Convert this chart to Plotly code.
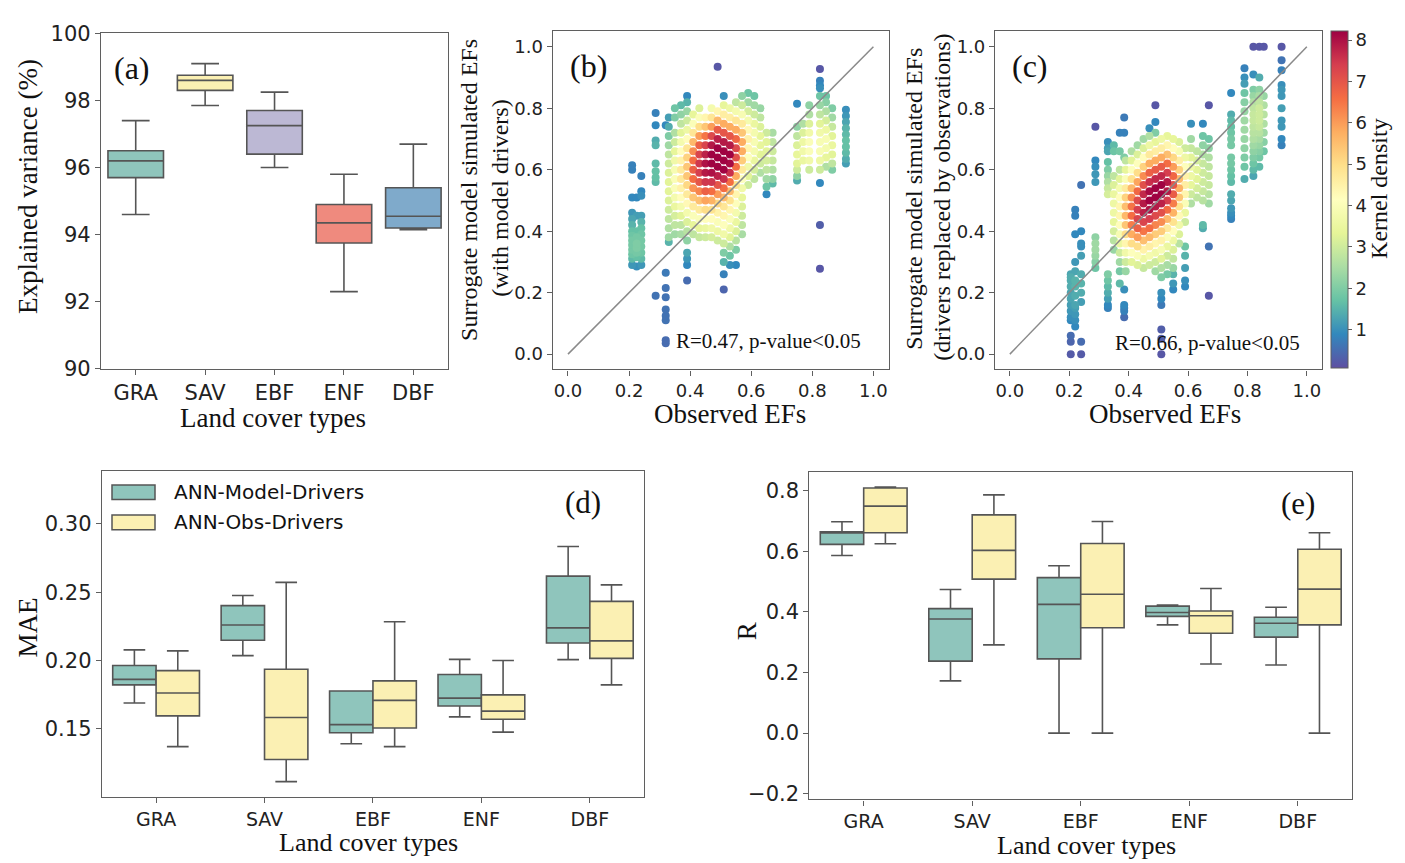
import plotly.graph_objects as go

W, H = 1405, 863
SERIF = "Liberation Serif, Times New Roman, serif"
SANS = "DejaVu Sans, sans-serif"
LINE = "#5f5f5f"
BOXLINE = "#555555"

cats = ["GRA", "SAV", "EBF", "ENF", "DBF"]

# ---------------- (a) explained variance ----------------
ev_lower = [94.6, 97.85, 96.0, 92.3, 94.15]
ev_q1 = [95.7, 98.3, 96.4, 93.75, 94.2]
ev_med = [96.2, 98.6, 97.25, 94.35, 94.55]
ev_q3 = [96.5, 98.75, 97.7, 94.9, 95.4]
ev_upper = [97.4, 99.1, 98.25, 95.8, 96.7]
ev_colors = ["#8fc5bc", "#fbf0b3", "#bcb8d4", "#ef8a7e", "#7faacb"]

# ---------------- (d) MAE ----------------
mae_model_lower = [0.169, 0.2036, 0.1391, 0.1588, 0.2007]
mae_model_q1 = [0.1822, 0.2149, 0.1472, 0.1668, 0.2128]
mae_model_med = [0.1862, 0.226, 0.1531, 0.1725, 0.2239]
mae_model_q3 = [0.1964, 0.2402, 0.1777, 0.1898, 0.2618]
mae_model_upper = [0.2078, 0.2476, 0.1777, 0.2009, 0.2835]
mae_obs_lower = [0.137, 0.1114, 0.137, 0.1476, 0.1822]
mae_obs_q1 = [0.1595, 0.1276, 0.1507, 0.1571, 0.2016]
mae_obs_med = [0.1763, 0.1583, 0.1709, 0.163, 0.2144]
mae_obs_q3 = [0.1926, 0.1936, 0.1851, 0.1749, 0.2433]
mae_obs_upper = [0.2071, 0.2572, 0.2284, 0.2, 0.2554]

# ---------------- (e) R ----------------
r_model_lower = [0.586, 0.1723, 0.0, 0.357, 0.2247]
r_model_q1 = [0.6225, 0.2375, 0.245, 0.385, 0.3167]
r_model_med = [0.66, 0.3766, 0.4247, 0.398, 0.3626]
r_model_q3 = [0.664, 0.4107, 0.513, 0.419, 0.382]
r_model_upper = [0.6975, 0.474, 0.552, 0.4225, 0.415]
r_obs_lower = [0.6247, 0.291, 0.0, 0.228, 0.0]
r_obs_q1 = [0.661, 0.508, 0.3477, 0.3295, 0.357]
r_obs_med = [0.7488, 0.603, 0.458, 0.387, 0.475]
r_obs_q3 = [0.8085, 0.72, 0.6257, 0.403, 0.6065]
r_obs_upper = [0.8117, 0.786, 0.698, 0.477, 0.661]

series_names = ["ANN-Model-Drivers", "ANN-Obs-Drivers"]
series_colors = ["#8fc5bc", "#fbf0b3"]

# ---------------- (b) scatter: observed EF columns, simulated EFs, kernel density ----------------
b_col_x = [0.21, 0.225, 0.24, 0.287, 0.32, 0.33, 0.35, 0.37, 0.39, 0.41, 0.43, 0.45, 0.47, 0.49, 0.51,
           0.53, 0.55, 0.57, 0.59, 0.61, 0.63, 0.65, 0.67, 0.75, 0.77, 0.79, 0.825, 0.845, 0.865, 0.91]
b_col_y = [
    [0.615, 0.600, 0.510, 0.460, 0.440, 0.420, 0.400, 0.385, 0.370, 0.355, 0.340, 0.325, 0.310, 0.290],
    [0.510, 0.450, 0.400, 0.380, 0.360, 0.345, 0.330, 0.315, 0.285],
    [0.580, 0.530, 0.515, 0.450, 0.430, 0.410, 0.390, 0.370, 0.350, 0.330, 0.310, 0.290],
    [0.785, 0.745, 0.695, 0.680, 0.620, 0.595, 0.575, 0.560, 0.190],
    [0.745, 0.265, 0.215, 0.185, 0.145, 0.125, 0.110, 0.045, 0.035],
    [0.77, 0.74, 0.71, 0.68, 0.65, 0.62, 0.59, 0.56, 0.53, 0.50, 0.47, 0.44, 0.41, 0.38, 0.365],
    [0.80, 0.77, 0.72, 0.69, 0.66, 0.63, 0.60, 0.57, 0.54, 0.51, 0.48, 0.45, 0.42, 0.39],
    [0.81, 0.78, 0.75, 0.72, 0.69, 0.66, 0.63, 0.60, 0.57, 0.54, 0.51, 0.48, 0.45, 0.42, 0.39],
    [0.84, 0.82, 0.79, 0.76, 0.73, 0.70, 0.67, 0.64, 0.61, 0.58, 0.55, 0.52, 0.49, 0.46, 0.43, 0.40, 0.37, 0.33, 0.31, 0.29, 0.24],
    [0.78, 0.75, 0.72, 0.69, 0.66, 0.63, 0.60, 0.57, 0.54, 0.51, 0.48, 0.45, 0.42, 0.39],
    [0.80, 0.77, 0.74, 0.71, 0.68, 0.65, 0.62, 0.59, 0.56, 0.53, 0.50, 0.47, 0.44, 0.41, 0.38],
    [0.77, 0.74, 0.71, 0.68, 0.65, 0.62, 0.59, 0.56, 0.53, 0.50, 0.47, 0.44, 0.41, 0.38],
    [0.80, 0.77, 0.74, 0.71, 0.68, 0.65, 0.62, 0.59, 0.56, 0.53, 0.50, 0.47, 0.44, 0.41, 0.38],
    [0.935, 0.79, 0.76, 0.73, 0.70, 0.67, 0.64, 0.61, 0.58, 0.55, 0.52, 0.49, 0.46, 0.43, 0.40, 0.37],
    [0.84, 0.81, 0.78, 0.75, 0.72, 0.69, 0.66, 0.63, 0.60, 0.57, 0.54, 0.51, 0.48, 0.45, 0.42, 0.39, 0.36, 0.33, 0.30, 0.26, 0.21],
    [0.80, 0.77, 0.74, 0.71, 0.68, 0.65, 0.62, 0.59, 0.56, 0.53, 0.50, 0.47, 0.44, 0.41, 0.38, 0.35, 0.32, 0.29],
    [0.82, 0.79, 0.76, 0.73, 0.70, 0.67, 0.64, 0.61, 0.58, 0.55, 0.52, 0.49, 0.46, 0.43, 0.40, 0.37, 0.34, 0.29],
    [0.84, 0.81, 0.78, 0.75, 0.72, 0.69, 0.66, 0.63, 0.60, 0.57, 0.54, 0.51, 0.48, 0.45, 0.42, 0.39],
    [0.85, 0.82, 0.79, 0.76, 0.73, 0.70, 0.67, 0.64, 0.61, 0.58, 0.55],
    [0.84, 0.81, 0.78, 0.75, 0.72, 0.69, 0.66, 0.63, 0.60, 0.57],
    [0.80, 0.77, 0.74, 0.71, 0.68, 0.65, 0.62, 0.59],
    [0.72, 0.69, 0.66, 0.63, 0.60, 0.57, 0.545, 0.52],
    [0.72, 0.69, 0.66, 0.63, 0.60, 0.57, 0.555],
    [0.815, 0.74, 0.71, 0.68, 0.65, 0.62, 0.60, 0.58, 0.565],
    [0.75, 0.72, 0.69, 0.66, 0.63],
    [0.81, 0.78, 0.75, 0.72, 0.69, 0.66, 0.63, 0.60],
    [0.928, 0.89, 0.875, 0.865, 0.84, 0.81, 0.78, 0.75, 0.72, 0.69, 0.66, 0.63, 0.60, 0.557, 0.42, 0.278],
    [0.84, 0.82, 0.79, 0.76, 0.73, 0.70, 0.67, 0.64, 0.61],
    [0.80, 0.77, 0.74, 0.71, 0.68, 0.65, 0.62, 0.60],
    [0.795, 0.775, 0.755, 0.735, 0.715, 0.695, 0.675, 0.655, 0.635, 0.62],
]
b_col_d = [
    [0.8, 0.8, 0.9, 1.1, 1.3, 1.5, 1.7, 1.8, 1.9, 1.9, 1.9, 1.8, 1.6, 1.1],
    [0.9, 1.2, 1.7, 1.9, 2.0, 2.0, 1.9, 1.7, 1.0],
    [0.8, 0.9, 1.0, 1.2, 1.5, 1.7, 1.8, 1.9, 1.9, 1.8, 1.6, 1.1],
    [0.8, 0.9, 1.4, 1.5, 1.6, 1.7, 1.7, 1.6, 0.6],
    [0.9, 0.7, 0.6, 0.6, 0.6, 0.6, 0.6, 0.5, 0.5],
    [1.2, 1.4, 2.0, 2.4, 2.8, 3.0, 3.2, 3.3, 3.3, 3.2, 3.0, 2.8, 2.6, 2.4, 1.5],
    [1.8, 2.0, 2.6, 3.0, 3.4, 3.7, 3.9, 4.0, 4.0, 3.8, 3.5, 3.1, 2.8, 2.4],
    [1.6, 2.2, 2.8, 3.3, 3.8, 4.2, 4.5, 4.7, 4.7, 4.5, 4.2, 3.8, 3.3, 2.8, 2.5],
    [0.9, 1.5, 2.3, 3.0, 3.6, 4.2, 4.8, 5.2, 5.4, 5.4, 5.1, 4.7, 4.3, 3.8, 3.2, 2.7, 2.2, 1.3, 1.1, 0.9, 0.5],
    [3.4, 4.0, 4.8, 5.6, 6.2, 6.6, 6.8, 6.6, 6.1, 5.4, 4.7, 4.0, 3.4, 2.8],
    [3.2, 4.0, 5.0, 6.0, 6.8, 7.3, 7.5, 7.4, 7.0, 6.3, 5.5, 4.7, 4.0, 3.4, 2.9],
    [4.4, 5.4, 6.5, 7.3, 7.8, 8.0, 7.9, 7.5, 6.8, 5.9, 5.0, 4.2, 3.5, 3.0],
    [3.8, 4.8, 6.0, 7.2, 7.9, 8.2, 8.2, 8.0, 7.5, 6.6, 5.7, 4.9, 4.2, 3.7, 3.1],
    [0.2, 4.4, 5.6, 6.9, 7.8, 8.2, 8.2, 8.2, 7.8, 7.0, 6.0, 5.1, 4.5, 4.0, 3.6, 3.0],
    [1.0, 3.4, 4.6, 5.8, 7.0, 7.9, 8.2, 8.2, 8.2, 7.6, 6.6, 5.6, 4.8, 4.4, 4.1, 3.7, 3.0, 2.0, 1.5, 0.8, 0.4],
    [3.6, 4.6, 5.8, 7.0, 7.9, 8.2, 8.1, 7.6, 6.6, 5.6, 4.9, 4.4, 4.0, 3.7, 3.3, 2.6, 1.8, 1.0],
    [2.8, 3.8, 4.8, 5.8, 6.7, 7.2, 7.1, 6.6, 5.8, 4.9, 4.4, 4.1, 3.8, 3.5, 3.2, 2.7, 2.0, 0.9],
    [2.2, 3.0, 3.9, 4.7, 5.4, 5.8, 5.8, 5.3, 4.7, 4.1, 3.7, 3.4, 3.2, 3.0, 2.8, 2.5],
    [1.8, 2.4, 3.1, 3.8, 4.3, 4.5, 4.4, 4.1, 3.7, 3.3, 3.0],
    [1.8, 2.4, 3.0, 3.5, 3.8, 3.9, 3.8, 3.5, 3.1, 2.8],
    [2.3, 2.8, 3.2, 3.4, 3.4, 3.3, 3.0, 2.6],
    [3.0, 3.3, 3.3, 3.1, 2.8, 2.4, 1.8, 0.9],
    [2.5, 2.8, 3.0, 2.9, 2.6, 2.2, 1.6],
    [0.9, 2.2, 2.8, 3.2, 3.4, 3.3, 3.0, 2.2, 1.4],
    [2.6, 3.2, 3.6, 3.7, 3.5],
    [2.2, 2.6, 3.2, 3.7, 4.0, 4.0, 3.7, 3.0],
    [0.2, 0.8, 0.9, 1.0, 1.8, 2.3, 2.8, 3.3, 3.7, 3.9, 3.9, 3.6, 3.0, 0.9, 0.3, 0.2],
    [1.8, 2.1, 2.6, 3.1, 3.6, 3.9, 3.8, 3.4, 2.6],
    [2.0, 2.4, 2.9, 3.3, 3.5, 3.3, 2.8, 2.0],
    [1.0, 1.1, 1.3, 1.5, 1.6, 1.7, 1.7, 1.6, 1.4, 1.2],
]

# ---------------- (c) scatter ----------------
c_col_x = [0.205, 0.22, 0.24, 0.288, 0.33, 0.35, 0.37, 0.385, 0.39, 0.41, 0.43, 0.45, 0.47, 0.49, 0.51,
           0.53, 0.55, 0.57, 0.59, 0.61, 0.63, 0.65, 0.67, 0.745, 0.79, 0.82, 0.84, 0.855, 0.915]
c_col_y = [
    [0.26, 0.25, 0.24, 0.22, 0.20, 0.18, 0.16, 0.14, 0.12, 0.11, 0.06, 0.04, 0.00],
    [0.47, 0.45, 0.39, 0.30, 0.27, 0.24, 0.22, 0.19, 0.16, 0.15, 0.13, 0.11, 0.09],
    [0.55, 0.40, 0.36, 0.35, 0.32, 0.26, 0.23, 0.20, 0.17, 0.04, 0.00],
    [0.74, 0.63, 0.61, 0.585, 0.56, 0.38, 0.36, 0.34, 0.32, 0.30, 0.28],
    [0.69, 0.67, 0.66, 0.625, 0.60, 0.58, 0.56, 0.54, 0.52, 0.26, 0.24, 0.22, 0.20, 0.18, 0.16, 0.15],
    [0.68, 0.66, 0.58, 0.55, 0.52, 0.49, 0.46, 0.43, 0.40, 0.37, 0.34],
    [0.72, 0.66, 0.60, 0.57, 0.54, 0.51, 0.48, 0.45, 0.42, 0.39, 0.36, 0.33, 0.30, 0.27, 0.23],
    [0.77, 0.72, 0.64, 0.21, 0.16, 0.15, 0.14, 0.12],
    [0.63, 0.60, 0.57, 0.54, 0.51, 0.48, 0.45, 0.42, 0.39, 0.36, 0.33, 0.30, 0.27],
    [0.66, 0.63, 0.60, 0.57, 0.54, 0.51, 0.48, 0.45, 0.42, 0.39, 0.36, 0.33, 0.30],
    [0.68, 0.65, 0.62, 0.59, 0.56, 0.53, 0.50, 0.47, 0.44, 0.41, 0.38, 0.35, 0.32, 0.29],
    [0.70, 0.67, 0.64, 0.61, 0.58, 0.55, 0.52, 0.49, 0.46, 0.43, 0.40, 0.37, 0.34, 0.31, 0.28],
    [0.735, 0.71, 0.68, 0.65, 0.62, 0.59, 0.56, 0.53, 0.50, 0.47, 0.44, 0.41, 0.38, 0.35, 0.32, 0.29],
    [0.81, 0.755, 0.72, 0.69, 0.66, 0.63, 0.60, 0.57, 0.54, 0.51, 0.48, 0.45, 0.42, 0.39, 0.36, 0.33, 0.30, 0.27],
    [0.70, 0.67, 0.64, 0.61, 0.58, 0.55, 0.52, 0.49, 0.46, 0.43, 0.40, 0.37, 0.34, 0.31, 0.28, 0.25, 0.20, 0.18, 0.16, 0.08, 0.05, 0.00],
    [0.71, 0.68, 0.65, 0.62, 0.59, 0.56, 0.53, 0.50, 0.47, 0.44, 0.41, 0.38, 0.35, 0.32, 0.29, 0.26],
    [0.70, 0.67, 0.64, 0.61, 0.58, 0.55, 0.52, 0.49, 0.46, 0.43, 0.40, 0.37, 0.34, 0.31, 0.28, 0.26, 0.23, 0.21],
    [0.69, 0.66, 0.63, 0.60, 0.57, 0.54, 0.51, 0.48, 0.45, 0.42, 0.39, 0.36],
    [0.67, 0.64, 0.61, 0.58, 0.55, 0.52, 0.49, 0.46, 0.43, 0.35, 0.32, 0.28, 0.24, 0.22],
    [0.75, 0.70, 0.67, 0.64, 0.61, 0.58, 0.55, 0.52, 0.49],
    [0.66, 0.63, 0.60, 0.57, 0.54, 0.51],
    [0.75, 0.71, 0.68, 0.65, 0.62, 0.59, 0.56, 0.53, 0.50, 0.42, 0.41],
    [0.81, 0.70, 0.67, 0.64, 0.61, 0.58, 0.55, 0.52, 0.49, 0.35, 0.19],
    [0.85, 0.78, 0.76, 0.74, 0.72, 0.70, 0.68, 0.64, 0.62, 0.60, 0.58, 0.56, 0.52, 0.50, 0.475, 0.46, 0.45, 0.44],
    [0.93, 0.90, 0.88, 0.85, 0.82, 0.79, 0.76, 0.73, 0.70, 0.67, 0.64, 0.61, 0.57],
    [1.0, 0.91, 0.86, 0.84, 0.82, 0.80, 0.78, 0.76, 0.74, 0.72, 0.70, 0.68, 0.66, 0.64, 0.62, 0.60, 0.58],
    [1.0, 0.90, 0.86, 0.84, 0.82, 0.80, 0.78, 0.76, 0.74, 0.72, 0.70, 0.68, 0.66, 0.64, 0.61],
    [1.0, 0.84, 0.81, 0.78, 0.75, 0.72, 0.69, 0.66],
    [1.0, 0.956, 0.924, 0.876, 0.86, 0.84, 0.80, 0.76, 0.74, 0.70, 0.68],
]
c_col_d = [
    [1.3, 1.4, 1.4, 1.4, 1.3, 1.3, 1.2, 1.1, 1.0, 0.9, 0.5, 0.4, 0.25],
    [0.8, 0.8, 0.9, 1.1, 1.3, 1.5, 1.5, 1.4, 1.3, 1.2, 1.1, 1.0, 0.9],
    [0.6, 0.9, 1.0, 1.0, 1.2, 1.4, 1.5, 1.4, 1.2, 0.5, 0.25],
    [0.2, 0.9, 1.0, 1.1, 1.1, 2.2, 2.4, 2.4, 2.3, 2.1, 1.8],
    [1.0, 1.2, 1.3, 1.7, 2.0, 2.3, 2.6, 2.9, 3.1, 2.0, 1.8, 1.6, 1.4, 1.2, 0.9, 0.8],
    [1.6, 1.8, 2.8, 3.2, 3.5, 3.6, 3.6, 3.4, 3.1, 2.7, 2.3],
    [0.8, 1.9, 2.8, 3.3, 3.8, 4.2, 4.4, 4.4, 4.2, 3.9, 3.5, 3.0, 2.4, 1.9, 1.6],
    [0.7, 0.8, 2.0, 1.0, 0.9, 0.8, 0.8, 0.5],
    [2.8, 3.4, 4.0, 4.7, 5.2, 5.5, 5.6, 5.4, 5.0, 4.4, 3.7, 3.0, 2.3],
    [2.6, 3.3, 4.1, 4.9, 5.6, 6.2, 6.5, 6.6, 6.4, 5.8, 5.0, 4.1, 3.3],
    [2.4, 3.2, 4.1, 5.0, 5.9, 6.7, 7.2, 7.4, 7.3, 6.8, 6.0, 5.0, 4.0, 3.2],
    [2.4, 3.2, 4.2, 5.2, 6.2, 7.1, 7.7, 7.9, 7.8, 7.3, 6.5, 5.5, 4.5, 3.6, 2.9],
    [1.0, 2.6, 3.6, 4.7, 5.8, 6.8, 7.6, 8.1, 8.2, 8.0, 7.4, 6.6, 5.6, 4.6, 3.8, 3.0],
    [0.2, 0.9, 2.0, 3.4, 4.6, 5.8, 6.9, 7.7, 8.2, 8.2, 7.9, 7.2, 6.3, 5.3, 4.4, 3.7, 3.0, 2.4],
    [3.6, 4.6, 5.8, 6.9, 7.7, 8.2, 8.2, 7.8, 7.1, 6.2, 5.3, 4.5, 3.9, 3.3, 2.6, 2.0, 1.0, 0.9, 0.7, 0.3, 0.3, 0.2],
    [3.4, 4.4, 5.5, 6.6, 7.4, 7.9, 7.9, 7.4, 6.6, 5.6, 4.7, 4.0, 3.5, 3.0, 2.5, 1.9],
    [3.4, 4.2, 5.1, 6.0, 6.7, 7.0, 6.9, 6.4, 5.7, 4.9, 4.2, 3.6, 3.2, 2.8, 2.3, 1.5, 1.1, 0.9],
    [3.2, 3.9, 4.6, 5.2, 5.6, 5.7, 5.4, 4.9, 4.3, 3.7, 3.2, 2.7],
    [3.0, 3.6, 4.1, 4.5, 4.6, 4.4, 4.0, 3.5, 3.0, 1.8, 1.5, 1.2, 1.0, 0.9],
    [1.0, 2.4, 2.9, 3.3, 3.6, 3.6, 3.4, 3.0, 2.6],
    [2.8, 3.1, 3.3, 3.3, 3.1, 2.8],
    [0.9, 1.8, 2.2, 2.6, 2.9, 3.0, 3.0, 2.9, 2.7, 1.6, 1.4],
    [0.2, 1.8, 2.2, 2.6, 2.8, 2.9, 2.9, 2.7, 2.4, 0.6, 0.2],
    [0.9, 1.4, 1.6, 1.7, 1.8, 1.9, 1.9, 1.9, 1.9, 1.8, 1.7, 1.6, 1.4, 1.3, 1.1, 1.0, 0.9, 0.8],
    [0.8, 1.0, 1.2, 1.8, 2.1, 2.3, 2.4, 2.4, 2.3, 2.2, 2.0, 1.8, 1.4],
    [0.2, 1.0, 2.0, 2.3, 2.6, 2.8, 2.9, 2.9, 2.8, 2.7, 2.6, 2.4, 2.2, 2.0, 1.8, 1.6, 1.3],
    [0.2, 1.4, 2.2, 2.5, 2.8, 3.0, 3.0, 3.0, 2.9, 2.7, 2.5, 2.3, 2.1, 1.9, 1.6],
    [0.2, 2.3, 2.6, 2.7, 2.6, 2.4, 2.1, 1.8],
    [0.2, 0.6, 0.8, 1.0, 1.1, 1.1, 1.2, 1.1, 1.1, 0.9, 0.8],
]

one_to_one = [0.0, 1.0]
density_range = [0.08, 8.23]
cbar_ticks = [1, 2, 3, 4, 5, 6, 7, 8]


def flatten(cx, cy, cd):
    pts = []
    for x, ys, ds in zip(cx, cy, cd):
        for y, d in zip(ys, ds):
            pts.append((d, x, y))
    pts.sort()  # draw highest density last
    return [p[1] for p in pts], [p[2] for p in pts], [p[0] for p in pts]


fig = go.Figure()


def add_box(xa, ya, xs, q1, med, q3, lo, hi, color, og, ag):
    fig.add_trace(go.Box(
        x=xs, q1=q1, median=med, q3=q3, lowerfence=lo, upperfence=hi,
        fillcolor=color, line=dict(color=BOXLINE, width=1.6), whiskerwidth=0.5,
        boxpoints=False, xaxis=xa, yaxis=ya, offsetgroup=og, alignmentgroup=ag,
        showlegend=False, hoverinfo="skip"))


# (a)
for i, c in enumerate(cats):
    add_box("x", "y", [c], [ev_q1[i]], [ev_med[i]], [ev_q3[i]], [ev_lower[i]], [ev_upper[i]],
            ev_colors[i], "a", "a")

# (b) and (c) scatter
for (cx, cy, cd, xa, ya, show) in [(b_col_x, b_col_y, b_col_d, "x2", "y2", False),
                                   (c_col_x, c_col_y, c_col_d, "x3", "y3", True)]:
    xs, ys, ds = flatten(cx, cy, cd)
    fig.add_trace(go.Scatter(
        x=xs, y=ys, mode="markers", xaxis=xa, yaxis=ya, showlegend=False, hoverinfo="skip",
        marker=dict(size=8, color=ds, colorscale="Spectral_r", cmin=density_range[0],
                    cmax=density_range[1], line=dict(width=0), showscale=show,
                    colorbar=dict(x=0.9471, xanchor="left", y=0.777, yanchor="middle",
                                  len=0.402, lenmode="fraction", thickness=17,
                                  thicknessmode="pixels", outlinecolor=LINE, outlinewidth=1,
                                  tickvals=cbar_ticks, ticks="outside", ticklen=4,
                                  tickcolor=LINE, xpad=0, ypad=0,
                                  tickfont=dict(family=SANS, size=18, color="#222")))))
    fig.add_trace(go.Scatter(x=one_to_one, y=one_to_one, mode="lines", xaxis=xa, yaxis=ya,
                             line=dict(color="#8a8a8a", width=1.5), showlegend=False,
                             hoverinfo="skip"))

# (d)
add_box("x4", "y4", cats, mae_model_q1, mae_model_med, mae_model_q3, mae_model_lower,
        mae_model_upper, series_colors[0], "dm", "d")
add_box("x4", "y4", cats, mae_obs_q1, mae_obs_med, mae_obs_q3, mae_obs_lower,
        mae_obs_upper, series_colors[1], "do", "d")
# (e)
add_box("x5", "y5", cats, r_model_q1, r_model_med, r_model_q3, r_model_lower,
        r_model_upper, series_colors[0], "em", "e")
add_box("x5", "y5", cats, r_obs_q1, r_obs_med, r_obs_q3, r_obs_lower,
        r_obs_upper, series_colors[1], "eo", "e")

ax = dict(showline=True, mirror=True, linecolor=LINE, linewidth=1.3, ticks="outside",
          ticklen=5, tickcolor=LINE, showgrid=False, zeroline=False)


def axis(domain, anchor, size, **kw):
    d = dict(ax)
    d.update(domain=domain, anchor=anchor, tickfont=dict(family=SANS, size=size, color="#222"))
    d.update(kw)
    return d


fig.update_layout(
    width=W, height=H, margin=dict(l=0, r=0, t=0, b=0),
    paper_bgcolor="white", plot_bgcolor="white",
    boxmode="group", boxgap=0.2, boxgroupgap=0.0,
    xaxis=axis([0.0719, 0.3189], "y", 21, type="category", categoryorder="array",
               categoryarray=cats, range=[-0.5, 4.5]),
    yaxis=axis([0.5747, 0.9745], "x", 21, range=[90, 100], tickvals=[90, 92, 94, 96, 98, 100]),
    xaxis2=axis([0.3934, 0.6325], "y2", 18, range=[-0.05, 1.05], tickvals=[0, 0.2, 0.4, 0.6, 0.8, 1.0],
                tickformat=".1f"),
    yaxis2=axis([0.5739, 0.9768], "x2", 18, range=[-0.05, 1.05], tickvals=[0, 0.2, 0.4, 0.6, 0.8, 1.0],
                tickformat=".1f"),
    xaxis3=axis([0.7082, 0.9407], "y3", 18, range=[-0.05, 1.05], tickvals=[0, 0.2, 0.4, 0.6, 0.8, 1.0],
                tickformat=".1f"),
    yaxis3=axis([0.5739, 0.9768], "x3", 18, range=[-0.05, 1.05], tickvals=[0, 0.2, 0.4, 0.6, 0.8, 1.0],
                tickformat=".1f"),
    xaxis4=axis([0.0725, 0.4584], "y4", 19, type="category", categoryorder="array",
                categoryarray=cats, range=[-0.5, 4.5]),
    yaxis4=axis([0.0641, 0.4534], "x4", 21, range=[0.100, 0.339], tickvals=[0.15, 0.20, 0.25, 0.30],
                tickformat=".2f"),
    xaxis5=axis([0.5761, 0.9623], "y5", 19, type="category", categoryorder="array",
                categoryarray=cats, range=[-0.5, 4.5]),
    yaxis5=axis([0.0614, 0.4523], "x5", 21, range=[-0.219, 0.863],
                tickvals=[-0.2, 0.0, 0.2, 0.4, 0.6, 0.8], tickformat=".1f"),
)

ann = []


def text(x, y, s, size, xref="paper", yref="paper", angle=0, family=SERIF, xanchor="center",
         yanchor="middle"):
    ann.append(dict(x=x, y=y, xref=xref, yref=yref, text=s, showarrow=False, textangle=angle,
                    font=dict(family=family, size=size, color="#111"), xanchor=xanchor,
                    yanchor=yanchor))


# panel letters
text(0.09, 0.896, "(a)", 32, "x domain", "y domain")
text(0.105, 0.899, "(b)", 32, "x2 domain", "y2 domain")
text(0.107, 0.899, "(c)", 32, "x3 domain", "y3 domain")
text(0.887, 0.901, "(d)", 31, "x4 domain", "y4 domain")
text(0.901, 0.904, "(e)", 31, "x5 domain", "y5 domain")
# stats text
text(0.656, 0.043, "R=0.47, p-value&lt;0.05", 21, "x2", "y2")
text(0.665, 0.037, "R=0.66, p-value&lt;0.05", 21, "x3", "y3")
# axis titles
text(28 / W, 1 - 180 / H, "Explained variance (%)", 27, angle=-90)
text(272.5 / W, 1 - 418 / H, "Land cover types", 27)
text(469 / W, 1 - 183 / H, "Surrogate model simulated EFs", 24, angle=-90)
text(500 / W, 1 - 192 / H, "(with model drivers)", 24, angle=-90)
text(730 / W, 1 - 414 / H, "Observed EFs", 27)
text(914 / W, 1 - 192 / H, "Surrogate model simulated EFs", 24, angle=-90)
text(942 / W, 1 - 191 / H, "(drivers replaced by observations)", 24, angle=-90)
text(1165 / W, 1 - 414 / H, "Observed EFs", 27)
text(1379 / W, 1 - 182 / H, "Kernel density", 24, angle=-90)
text(28 / W, 1 - 633 / H, "MAE", 27, angle=-90)
text(368 / W, -8 / H, "Land cover types", 26, yanchor="bottom")
text(747 / W, 1 - 637 / H, "R", 27, angle=-90)
text(1086 / W, -11 / H, "Land cover types", 26, yanchor="bottom")
# legend for (d)
legend_rows_y = [494 / H, 525 / H]
shapes = []
for name, col, yc in zip(series_names, series_colors, legend_rows_y):
    shapes.append(dict(type="rect", xref="paper", yref="paper", x0=112 / W, x1=155 / W,
                       y0=1 - yc - 7.5 / H, y1=1 - yc + 7.5 / H, fillcolor=col,
                       line=dict(color=BOXLINE, width=1.5)))
    text(172 / W, 1 - yc, name, 20, family=SANS, xanchor="left")

fig.update_layout(annotations=ann, shapes=shapes)
fig.write_html("out.html")
